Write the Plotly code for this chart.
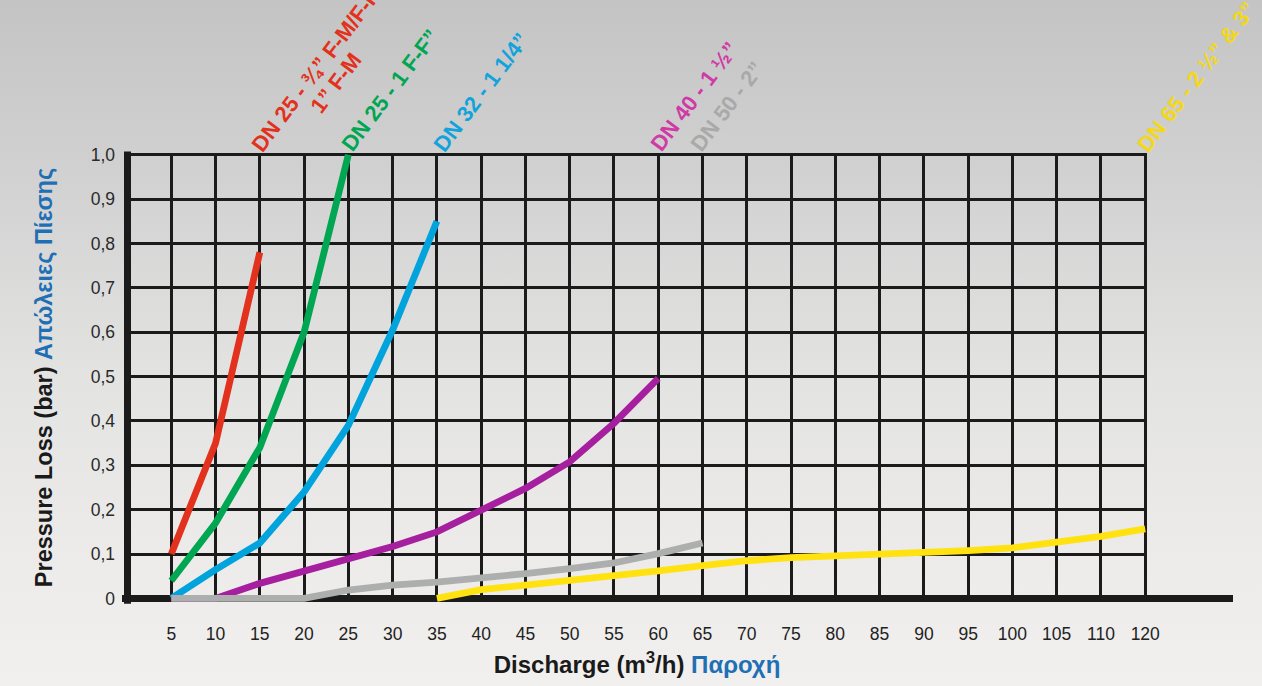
import base64
import plotly.graph_objects as go

# ---------------- data ----------------
X_LABELS = ["5", "10", "15", "20", "25", "30", "35", "40", "45", "50", "55", "60",
            "65", "70", "75", "80", "85", "90", "95", "100", "105", "110", "120"]
Y_TICKS = [0.0, 0.1, 0.2, 0.3, 0.4, 0.5, 0.6, 0.7, 0.8, 0.9, 1.0]
Y_TICK_LABELS = ["0", "0,1", "0,2", "0,3", "0,4", "0,5", "0,6", "0,7", "0,8", "0,9", "1,0"]

DN25_FM_X = ["5", "10", "15"]
DN25_FM_Y = [0.10, 0.35, 0.78]

DN25_FF_X = ["5", "10", "15", "20", "25"]
DN25_FF_Y = [0.04, 0.17, 0.34, 0.60, 1.0]

DN32_X = ["5", "10", "15", "20", "25", "30", "35"]
DN32_Y = [0.0, 0.065, 0.125, 0.24, 0.39, 0.605, 0.85]

DN40_X = ["5", "10", "15", "20", "25", "30", "35", "40", "45", "50", "55", "60"]
DN40_Y = [0.0, 0.0, 0.034, 0.061, 0.09, 0.117, 0.15, 0.199, 0.248, 0.308, 0.395, 0.496]

DN50_X = ["5", "10", "15", "20", "25", "30", "35", "40", "45", "50", "55", "60", "65"]
DN50_Y = [0.0, 0.0, 0.0, 0.0, 0.019, 0.03, 0.037, 0.045, 0.056, 0.067, 0.08, 0.101, 0.125]

DN65_X = ["35", "40", "45", "50", "55", "60", "65", "70", "75", "80", "85", "90",
          "95", "100", "105", "110", "120"]
DN65_Y = [0.0, 0.02, 0.03, 0.04, 0.05, 0.062, 0.074, 0.085, 0.092, 0.097, 0.10,
          0.104, 0.108, 0.114, 0.127, 0.14, 0.157]

SERIES = [
    # x, y, line colour, label text, label colour, label x-offset
    (DN25_FM_X, DN25_FM_Y, "#e2311d", "DN 25 - ¾” F-M/F-F", "#e2311d", -8),
    (DN25_FF_X, DN25_FF_Y, "#00a651", "DN 25 - 1 F-F”", "#00a651", -6),
    (DN32_X, DN32_Y, "#00a3dc", "DN 32 - 1 1/4”", "#12a3dc", -3),
    (DN40_X, DN40_Y, "#a61f9f", "DN 40 - 1 ½”", "#d03aa6", -7),
    (DN50_X, DN50_Y, "#adafaf", "DN 50 - 2”", "#a9a9a9", -11),
    (DN65_X, DN65_Y, "#ffe20f", "DN 65 - 2 ½” & 3”", "#f4d818", -7),
]
RED_SECOND_LINE = "1” F-M"

# ---------------- geometry ----------------
W, H = 1262, 686
ML, MR, MT, MB = 127, 115, 153, 84
PW, PH = W - ML - MR, H - MT - MB
FONT = "Liberation Sans, Arial, Helvetica, sans-serif"
GRID = "#1b1b1b"
LABEL_SIZE = 22
LBL_DX = -8.5
LBL_DY = -4.3

fig = go.Figure()
for xs, ys, col, _, _, _ in SERIES:
    fig.add_trace(go.Scatter(x=xs, y=ys, mode="lines",
                             line=dict(color=col, width=6.8),
                             showlegend=False, hoverinfo="skip"))

# background gradient
svg = (
    '<svg xmlns="http://www.w3.org/2000/svg" width="1262" height="686" '
    'viewBox="0 0 1262 686" preserveAspectRatio="none">'
    '<defs><linearGradient id="g" x1="0" y1="0" x2="0" y2="1">'
    '<stop offset="0" stop-color="#c4c4c4"/>'
    '<stop offset="0.25" stop-color="#d1d1d1"/>'
    '<stop offset="0.55" stop-color="#e3e3e2"/>'
    '<stop offset="0.8" stop-color="#ecebea"/>'
    '<stop offset="1" stop-color="#f1f0ee"/>'
    '</linearGradient></defs>'
    '<rect width="1262" height="686" fill="url(#g)"/></svg>'
)
src = "data:image/svg+xml;base64," + base64.b64encode(svg.encode()).decode()
fig.add_layout_image(dict(source=src, xref="paper", yref="paper",
                          x=-ML / PW, y=1 + MT / PH, sizex=W / PW, sizey=H / PH,
                          xanchor="left", yanchor="top", sizing="stretch",
                          layer="below"))

# thick axes
y0_paper = 0.008 / 1.012
fig.add_shape(type="line", xref="paper", yref="paper",
              x0=-5 / PW, x1=(1233 - ML) / PW, y0=y0_paper, y1=y0_paper,
              line=dict(color=GRID, width=7), layer="below")
fig.add_shape(type="line", xref="paper", yref="paper",
              x0=0.5 / PW, x1=0.5 / PW, y0=-0.004, y1=1.0 + 1.5 / PH,
              line=dict(color=GRID, width=7), layer="above")

# curve labels (anchored at the category index of each curve's last point)
for xs, ys, col, txt, lcol, off in SERIES:
    fig.add_annotation(x=X_LABELS.index(xs[-1]), y=1.0, xref="x", yref="y",
                       text="<b>" + txt + "</b>",
                       showarrow=False, textangle=-53, xanchor="left", yanchor="bottom",
                       xshift=off + LBL_DX, yshift=LBL_DY,
                       font=dict(family=FONT, size=LABEL_SIZE, color=lcol))
fig.add_annotation(x=X_LABELS.index(DN25_FM_X[-1]), y=1.0, xref="x", yref="y",
                   text="<b>" + RED_SECOND_LINE + "</b>",
                   showarrow=False, textangle=-53, xanchor="left", yanchor="bottom",
                   xshift=-8 + LBL_DX + 59, yshift=LBL_DY + 38,
                   font=dict(family=FONT, size=LABEL_SIZE, color="#e2311d"))

fig.update_layout(
    width=W, height=H,
    margin=dict(l=ML, r=MR, t=MT, b=MB, pad=0),
    paper_bgcolor="#e0e0e0",
    plot_bgcolor="rgba(0,0,0,0)",
    font=dict(family=FONT),
    xaxis=dict(
        type="category", categoryorder="array", categoryarray=X_LABELS,
        tickvals=X_LABELS, ticktext=X_LABELS,
        range=[-1, 22.04], showgrid=True, gridcolor=GRID, gridwidth=3.2,
        zeroline=False, showline=False, ticks="", ticklabelstandoff=19,
        tickfont=dict(family=FONT, size=17.5, color="#222222"),
        automargin=False, fixedrange=True,
        title=dict(text="<b>Discharge (m<sup>3</sup>/h) <span style='color:#1f6fb4'>Παροχή</span></b>",
                   font=dict(family=FONT, size=24, color="#1a1a1a"), standoff=13),
    ),
    yaxis=dict(
        range=[-0.008, 1.004], tickvals=Y_TICKS, ticktext=Y_TICK_LABELS,
        showgrid=True, gridcolor=GRID, gridwidth=3.2, zeroline=False, showline=False,
        ticks="", ticklabelstandoff=11,
        tickfont=dict(family=FONT, size=17.5, color="#2a2a2a"),
        automargin=False, fixedrange=True,
        title=dict(text="<b>Pressure Loss (bar) <span style='color:#1f6fb4'>Απώλειες Πίεσης</span></b>",
                   font=dict(family=FONT, size=23.5, color="#1a1a1a"), standoff=31),
    ),
)

fig.write_html(
    "out.html",
    config={"displayModeBar": False},
    post_script="document.body.style.margin='0';document.body.style.overflow='hidden';",
)
